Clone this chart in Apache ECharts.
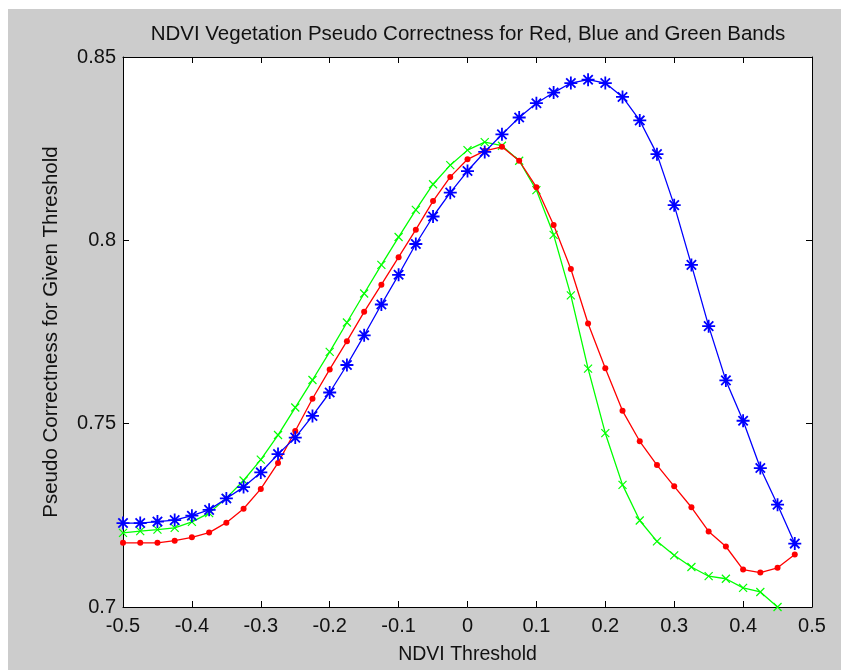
<!DOCTYPE html>
<html>
<head>
<meta charset="utf-8">
<script src="https://cdn.jsdelivr.net/npm/echarts@6/dist/echarts.min.js"></script>
<style>
  html, body { margin: 0; padding: 0; background: #fff; }
  #chart { width: 841px; height: 670px; }
</style>
</head>
<body>
<div id="chart"></div>
<script>
// NDVI thresholds, step 0.025
const thresholds = [
  -0.5, -0.475, -0.45, -0.425, -0.4, -0.375, -0.35, -0.325, -0.3, -0.275,
  -0.25, -0.225, -0.2, -0.175, -0.15, -0.125, -0.1, -0.075, -0.05, -0.025,
  0, 0.025, 0.05, 0.075, 0.1, 0.125, 0.15, 0.175, 0.2, 0.225,
  0.25, 0.275, 0.3, 0.325, 0.35, 0.375, 0.4, 0.425, 0.45, 0.475
];

const redBand = [
  0.7175, 0.7175, 0.7175, 0.7181, 0.7190, 0.7203, 0.7230, 0.7268, 0.7322, 0.7393,
  0.7480, 0.7568, 0.7648, 0.7725, 0.7805, 0.7879, 0.7954, 0.8029, 0.8107, 0.8173,
  0.8221, 0.8244, 0.8255, 0.8217, 0.8145, 0.8042, 0.7922, 0.7773, 0.7651, 0.7535,
  0.7452, 0.7387, 0.7329, 0.7272, 0.7206, 0.7165, 0.7102, 0.7094, 0.7107, 0.7143
];

const blueBand = [
  0.7229, 0.7229, 0.7233, 0.7237, 0.7249, 0.7265, 0.7296, 0.7327, 0.7367, 0.7417,
  0.7462, 0.7521, 0.7585, 0.7660, 0.7741, 0.7825, 0.7906, 0.7990, 0.8065, 0.8130,
  0.8189, 0.8241, 0.8289, 0.8335, 0.8374, 0.8403, 0.8429, 0.8438, 0.8429, 0.8391,
  0.8327, 0.8235, 0.8096, 0.7933, 0.7766, 0.7618, 0.7508, 0.7379, 0.7279, 0.7173
];

// green stops at 0.45 (hits the bottom of the axes)
const greenBand = [
  0.7202, 0.7207, 0.7211, 0.7216, 0.7232, 0.7256, 0.7297, 0.7345, 0.7402, 0.7469,
  0.7544, 0.7619, 0.7696, 0.7776, 0.7855, 0.7933, 0.8009, 0.8083, 0.8153, 0.8205,
  0.8246, 0.8268, 0.8258, 0.8217, 0.8137, 0.8015, 0.7850, 0.7650, 0.7474, 0.7333,
  0.7236, 0.7179, 0.7141, 0.7109, 0.7084, 0.7077, 0.7052, 0.7041, 0.7000
];

const xTicks = [-0.5, -0.4, -0.3, -0.2, -0.1, 0, 0.1, 0.2, 0.3, 0.4, 0.5];
const yTicks = [0.7, 0.75, 0.8, 0.85];

function pairs(ys) {
  return ys.map((v, i) => [thresholds[i], v]);
}

const font = 'Liberation Sans, Arial, sans-serif';
const asterisk = 'path://M0,-5L0,5M-5,0L5,0M-3.6,-3.6L3.6,3.6M-3.6,3.6L3.6,-3.6';
const cross = 'path://M-4,-4L4,4M-4,4L4,-4';

const myChart = echarts.init(document.getElementById('chart'));

const baseX = {
  type: 'value',
  min: xTicks[0],
  max: xTicks[xTicks.length - 1],
  interval: 0.1,
  splitLine: { show: false },
  axisLine: { show: true, onZero: false, lineStyle: { color: '#000', width: 1 } },
  axisTick: { inside: true, length: 6, lineStyle: { color: '#000' } }
};
const baseY = {
  type: 'value',
  min: yTicks[0],
  max: yTicks[yTicks.length - 1],
  interval: 0.05,
  splitLine: { show: false },
  axisLine: { show: true, onZero: false, lineStyle: { color: '#000', width: 1 } },
  axisTick: { inside: true, length: 6, lineStyle: { color: '#000' } }
};

myChart.setOption({
  animation: false,
  backgroundColor: '#cccccc',
  title: {
    text: 'NDVI Vegetation Pseudo Correctness for Red, Blue and Green Bands',
    left: 463,
    top: 19,
    textAlign: 'center',
    textStyle: { fontFamily: font, fontSize: 20.5, fontWeight: 'normal', color: '#111' }
  },
  graphic: [
    { type: 'rect', shape: { x: 0, y: 0, width: 841, height: 9 }, style: { fill: '#fff' }, silent: true },
    { type: 'rect', shape: { x: 0, y: 0, width: 8, height: 670 }, style: { fill: '#fff' }, silent: true }
  ],
  grid: {
    left: 123,
    top: 57,
    right: 29,
    bottom: 61,
    show: true,
    backgroundColor: '#fff',
    borderWidth: 0
  },
  xAxis: [
    Object.assign({}, baseX, {
      position: 'bottom',
      name: 'NDVI Threshold',
      nameLocation: 'middle',
      nameGap: 38,
      nameTextStyle: { fontFamily: font, fontSize: 19.5, color: '#111' },
      axisLabel: {
        fontFamily: font, fontSize: 20, color: '#111', margin: 9,
        formatter: v => (Math.abs(v) < 1e-9 ? '0' : v.toFixed(1))
      }
    }),
    Object.assign({}, baseX, { position: 'top', axisLabel: { show: false } })
  ],
  yAxis: [
    Object.assign({}, baseY, {
      position: 'left',
      name: 'Pseudo Correctness for Given Threshold',
      nameLocation: 'middle',
      nameGap: 61,
      nameTextStyle: { fontFamily: font, fontSize: 20.5, color: '#111' },
      axisLabel: {
        fontFamily: font, fontSize: 20, color: '#111', margin: 7,
        formatter: v => String(Math.round(v * 100) / 100)
      }
    }),
    Object.assign({}, baseY, { position: 'right', axisLabel: { show: false } })
  ],
  series: [
    {
      name: 'Red',
      type: 'line',
      data: pairs(redBand),
      symbol: 'circle',
      symbolSize: 6,
      itemStyle: { color: '#ff0000' },
      lineStyle: { color: '#ff0000', width: 1.3 },
      z: 3
    },
    {
      name: 'Blue',
      type: 'line',
      data: pairs(blueBand),
      symbol: asterisk,
      symbolSize: 13,
      itemStyle: { color: '#0000ff', borderColor: '#0000ff', borderWidth: 1.8 },
      lineStyle: { color: '#0000ff', width: 1.3 },
      z: 4
    },
    {
      name: 'Green',
      type: 'line',
      data: pairs(greenBand),
      symbol: cross,
      symbolSize: 8,
      itemStyle: { color: '#00ff00', borderColor: '#00ff00', borderWidth: 1.2 },
      lineStyle: { color: '#00ff00', width: 1.3 },
      z: 2
    }
  ]
});

window.addEventListener('resize', () => {
  myChart.resize();
});
</script>
</body>
</html>
